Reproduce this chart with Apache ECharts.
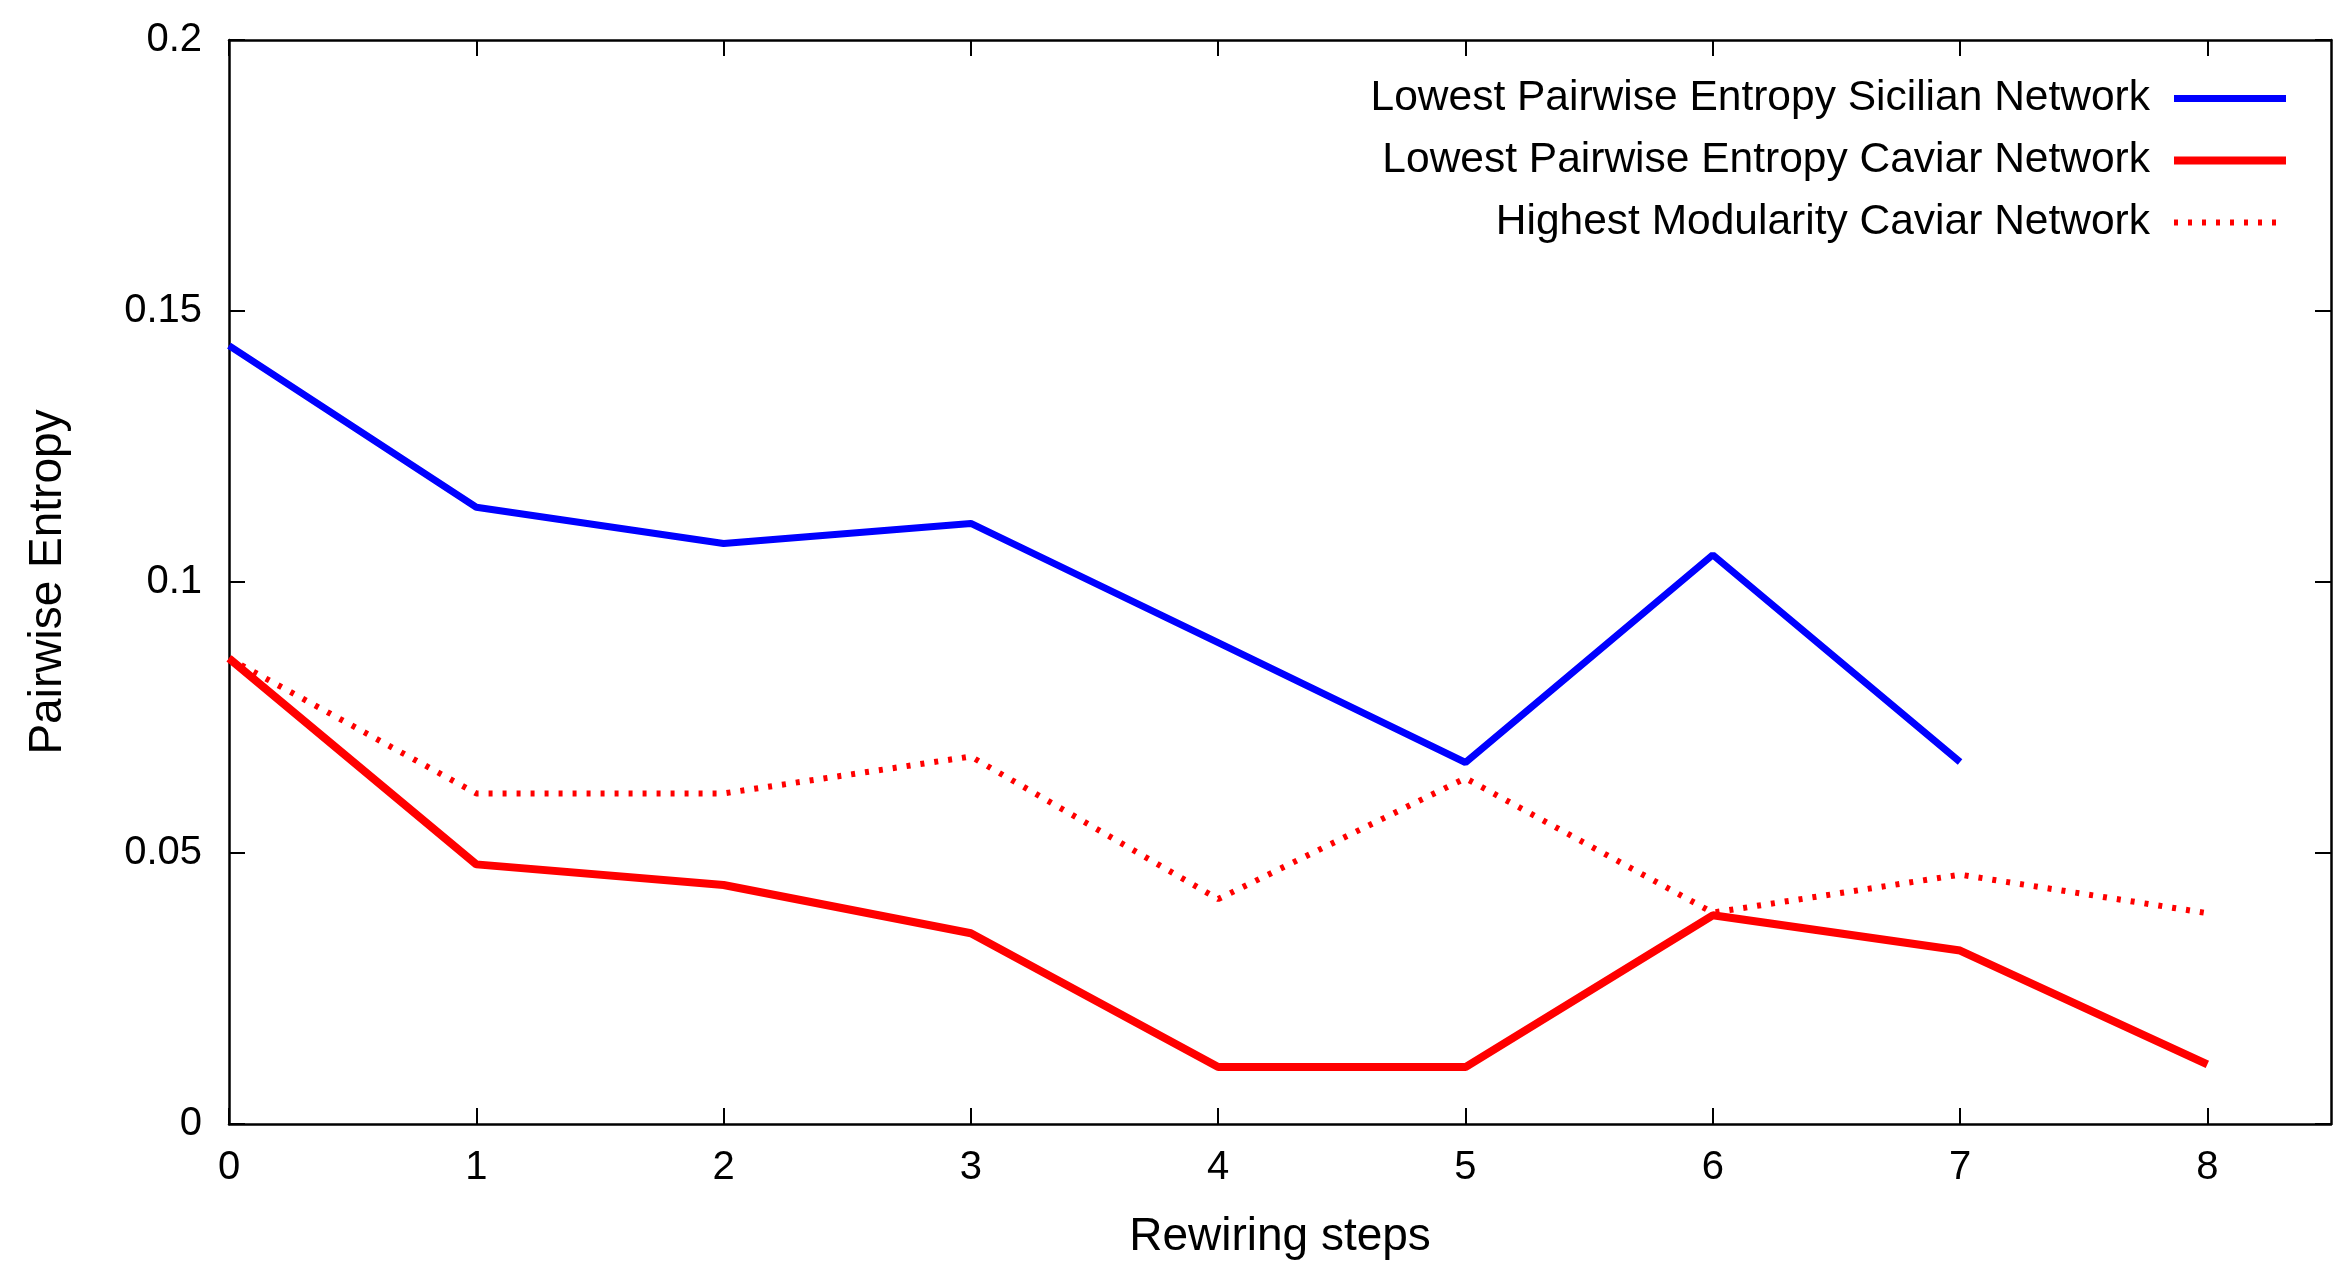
<!DOCTYPE html>
<html>
<head>
<meta charset="utf-8">
<script src="https://cdn.jsdelivr.net/npm/echarts@6/dist/echarts.min.js"></script>
<style>
html,body{margin:0;padding:0;background:#fff;}
#chart{width:2346px;height:1279px;}
</style>
</head>
<body>
<div id="chart"></div>
<script>
const steps = [0, 1, 2, 3, 4, 5, 6, 7, 8];
const xTicks = [0, 1, 2, 3, 4, 5, 6, 7, 8];
const sicilianLowest = [0.1436, 0.1138, 0.1071, 0.1108, 0.0888, 0.0667, 0.1050, 0.0668];
const caviarLowest = [0.0859, 0.0479, 0.0441, 0.0352, 0.0105, 0.0105, 0.0385, 0.0320, 0.0110];
const caviarModularity = [0.0859, 0.0610, 0.0610, 0.0678, 0.0415, 0.0638, 0.0390, 0.0460, 0.0389];
const seriesNames = [
  'Lowest Pairwise Entropy Sicilian Network',
  'Lowest Pairwise Entropy Caviar Network',
  'Highest Modularity Caviar Network'
];

function pairs(vals) { return vals.map((v, i) => [steps[i], v]); }

const FONT = 'Liberation Sans';
const chart = echarts.init(document.getElementById('chart'));
const axisLine = { show: true, onZero: false, lineStyle: { color: '#000', width: 2.5 } };
const tick = { show: true, inside: true, length: 16, lineStyle: { color: '#000', width: 2 } };

chart.setOption({
  backgroundColor: '#fff',
  animation: false,
  grid: { left: 229, right: 15, top: 40, bottom: 155, containLabel: false },
  legend: {
    orient: 'vertical',
    align: 'right',
    right: 51,
    top: 72,
    itemWidth: 112,
    itemHeight: 14,
    itemGap: 19,
    itemStyle: { opacity: 0 },
    lineStyle: { width: 'inherit' },
    textStyle: { fontFamily: FONT, fontSize: 42.5, color: '#000', padding: [0, 19, 0, 0] },
    data: seriesNames
  },
  xAxis: [{
    type: 'value', position: 'bottom', min: 0, max: 8.5, interval: 1,
    name: 'Rewiring steps', nameLocation: 'middle', nameGap: 90,
    nameTextStyle: { fontFamily: FONT, fontSize: 46, color: '#000' },
    axisLine: axisLine,
    axisTick: Object.assign({ customValues: xTicks }, tick),
    axisLabel: { customValues: xTicks, margin: 24, fontFamily: FONT, fontSize: 40, color: '#000' },
    splitLine: { show: false }
  }, {
    type: 'value', position: 'top', min: 0, max: 8.5, interval: 1,
    axisLine: axisLine,
    axisTick: Object.assign({ customValues: xTicks }, tick),
    axisLabel: { show: false },
    splitLine: { show: false }
  }],
  yAxis: [{
    type: 'value', position: 'left', min: 0, max: 0.2, interval: 0.05,
    name: 'Pairwise Entropy', nameLocation: 'middle', nameGap: 158,
    nameTextStyle: { fontFamily: FONT, fontSize: 46, color: '#000' },
    axisLine: axisLine, axisTick: tick,
    axisLabel: { margin: 27, fontFamily: FONT, fontSize: 40, color: '#000' },
    splitLine: { show: false }
  }, {
    type: 'value', position: 'right', min: 0, max: 0.2, interval: 0.05,
    axisLine: axisLine, axisTick: tick,
    axisLabel: { show: false },
    splitLine: { show: false }
  }],
  series: [{
    name: seriesNames[0], type: 'line', symbol: 'none',
    data: pairs(sicilianLowest),
    lineStyle: { color: '#0000ff', width: 7 }, itemStyle: { color: '#0000ff' }
  }, {
    name: seriesNames[1], type: 'line', symbol: 'none',
    data: pairs(caviarLowest),
    lineStyle: { color: '#ff0000', width: 8 }, itemStyle: { color: '#ff0000' }
  }, {
    name: seriesNames[2], type: 'line', symbol: 'none',
    data: pairs(caviarModularity),
    lineStyle: { color: '#ff0000', width: 6, type: [4, 10] }, itemStyle: { color: '#ff0000' }
  }]
});
</script>
</body>
</html>
